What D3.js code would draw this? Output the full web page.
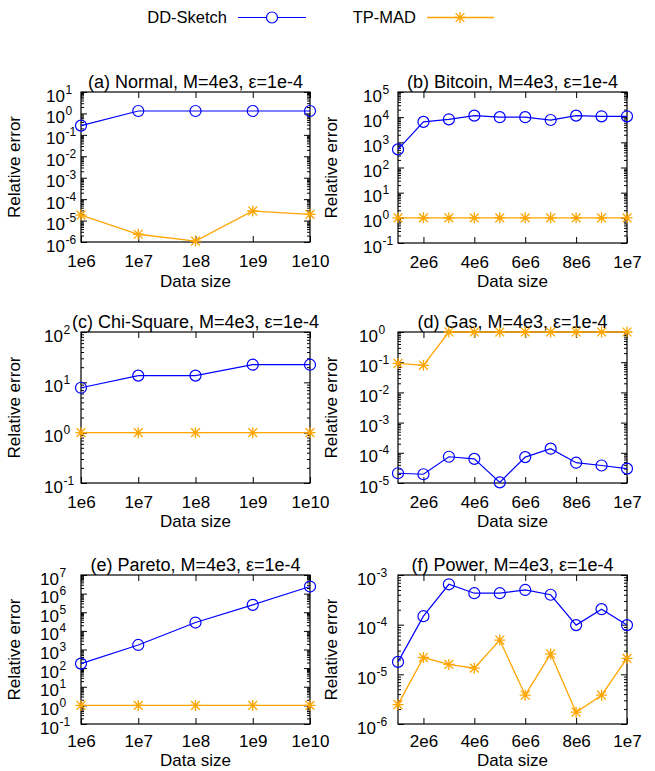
<!DOCTYPE html>
<html>
<head>
<meta charset="utf-8">
<script src="https://cdn.jsdelivr.net/npm/d3@7"></script>
<style>
  body { margin: 0; background: #fff; }
  text { font-family: "Liberation Sans", Arial, Helvetica, sans-serif; fill: #000; }
</style>
</head>
<body>
<div id="chart"></div>
<script>
// data sizes on the x axis
const logSizes = [1e6, 1e7, 1e8, 1e9, 1e10];
const linSizes = [1e6, 2e6, 3e6, 4e6, 5e6, 6e6, 7e6, 8e6, 9e6, 1e7];
const linTicks = [2e6, 4e6, 6e6, 8e6, 1e7];

// relative error
const normalDD = [0.27, 1.3, 1.3, 1.3, 1.3];
const normalTP = [1.8e-5, 2.3e-6, 1.1e-6, 2.8e-5, 1.95e-5];
const bitcoinDD = [525, 6500, 8200, 11500, 10000, 10000, 7700, 11500, 10800, 10800];
const bitcoinTP = [1, 1, 1, 1, 1, 1, 1, 1, 1, 1];
const chiDD = [7.8, 13.6, 13.6, 22.4, 22.4];
const chiTP = [1, 1, 1, 1, 1];
const gasDD = [2.1e-5, 1.95e-5, 7.4e-5, 6.3e-5, 1.05e-5, 7.2e-5, 1.37e-4, 4.7e-5, 3.8e-5, 3.0e-5];
const gasTP = [0.091, 0.079, 1, 1, 1, 1, 1, 1, 1, 1];
const paretoDD = [175, 1750, 28000, 2.5e5, 2.4e6];
const paretoTP = [1, 1, 1, 1, 1];
const powerDD = [1.78e-5, 1.48e-4, 6.5e-4, 4.3e-4, 4.3e-4, 5.0e-4, 4.0e-4, 9.8e-5, 2.05e-4, 9.8e-5];
const powerTP = [2.45e-6, 2.18e-5, 1.58e-5, 1.33e-5, 4.9e-5, 3.8e-6, 2.57e-5, 1.73e-6, 3.8e-6, 2.09e-5];

const BLUE = '#0000ff';
const ORANGE = '#ffa500';
const FONT = 17;

const panels = [
    { title: '(a) Normal, M=4e3, ε=1e-4', log: true, xs: logSizes, yDomain: [1e-6, 1e1], dd: normalDD, tp: normalTP,
      box: { x0: 81, x1: 310, y0: 92, y1: 242 }, gap: 16, pad: 13, xlab: 45 },
    { title: '(b) Bitcoin, M=4e3, ε=1e-4', log: false, xs: linSizes, yDomain: [1e-1, 1e5], dd: bitcoinDD, tp: bitcoinTP,
      box: { x0: 398, x1: 627, y0: 92, y1: 243 }, gap: 16, pad: 13, xlab: 44 },
    { title: '(c) Chi-Square, M=4e3, ε=1e-4', log: true, xs: logSizes, yDomain: [1e-1, 1e2], dd: chiDD, tp: chiTP,
      box: { x0: 81, x1: 310, y0: 332, y1: 483 }, gap: 18, pad: 13, xlab: 44 },
    { title: '(d) Gas, M=4e3, ε=1e-4', log: false, xs: linSizes, yDomain: [1e-5, 1e0], dd: gasDD, tp: gasTP,
      box: { x0: 398, x1: 627, y0: 332, y1: 483 }, gap: 20, pad: 13, xlab: 44 },
    { title: '(e) Pareto, M=4e3, ε=1e-4', log: true, xs: logSizes, yDomain: [1e-1, 1e7], dd: paretoDD, tp: paretoTP,
      box: { x0: 81, x1: 310, y0: 575, y1: 724 }, gap: 22, pad: 11, xlab: 42 },
    { title: '(f) Power, M=4e3, ε=1e-4', log: false, xs: linSizes, yDomain: [1e-6, 1e-3], dd: powerDD, tp: powerTP,
      box: { x0: 398, x1: 627, y0: 575, y1: 724 }, gap: 22, pad: 11, xlab: 42 }
];

const svg = d3.select('#chart')
    .append('svg')
    .attr('width', 655)
    .attr('height', 771);

svg.append('rect').attr('width', 655).attr('height', 771).attr('fill', '#fff');

// gnuplot style asterisk (+ and x)
function starPath(s) {
    const a = s * 0.8;
    return `M${-s},0L${s},0M0,${-s}L0,${s}M${-a},${-a}L${a},${a}M${-a},${a}L${a},${-a}`;
}

function styleAxis(sel) {
    sel.select('.domain').remove();
    sel.selectAll('.tick line').attr('stroke', '#000').attr('stroke-width', 1);
    sel.attr('font-family', null).attr('font-size', null);
}

function drawPanel(p) {
    const b = p.box;
    const g = svg.append('g');

    const x = p.log
        ? d3.scaleLog().domain([1e6, 1e10]).range([b.x0, b.x1])
        : d3.scaleLinear().domain([1e6, 1e7]).range([b.x0, b.x1]);
    const y = d3.scaleLog().domain(p.yDomain).range([b.y1, b.y0]);

    const lo = Math.round(Math.log10(p.yDomain[0]));
    const hi = Math.round(Math.log10(p.yDomain[1]));
    const majors = d3.range(lo, hi + 1).map(k => Math.pow(10, k));
    const minors = [];
    d3.range(lo, hi).forEach(k => {
        for (let m = 2; m <= 9; m++) minors.push(m * Math.pow(10, k));
    });

    // y axes, both sides, ticks pointing in
    const left = g.append('g').attr('transform', `translate(${b.x0},0)`)
        .call(d3.axisLeft(y).tickValues(majors).tickSizeInner(-6).tickSizeOuter(0).tickFormat(''));
    styleAxis(left);
    styleAxis(g.append('g').attr('transform', `translate(${b.x0},0)`)
        .call(d3.axisLeft(y).tickValues(minors).tickSizeInner(-3).tickSizeOuter(0).tickFormat('')));
    styleAxis(g.append('g').attr('transform', `translate(${b.x1},0)`)
        .call(d3.axisRight(y).tickValues(majors).tickSizeInner(-6).tickSizeOuter(0).tickFormat('')));
    styleAxis(g.append('g').attr('transform', `translate(${b.x1},0)`)
        .call(d3.axisRight(y).tickValues(minors).tickSizeInner(-3).tickSizeOuter(0).tickFormat('')));

    // 10^k labels
    left.selectAll('.tick').each(function (d) {
        const t = d3.select(this);
        t.select('text').remove();
        const k = Math.round(Math.log10(d));
        t.append('text')
            .attr('x', -p.gap).attr('y', 9)
            .attr('text-anchor', 'end')
            .attr('font-size', FONT)
            .text('10');
        t.append('text')
            .attr('x', -p.gap + 0.5).attr('y', 1)
            .attr('text-anchor', 'start')
            .attr('font-size', 12)
            .text(k);
    });

    // x axes
    const xTicks = p.log ? logSizes : linTicks;
    const fmt = p.log
        ? d => '1e' + Math.round(Math.log10(d))
        : d => (d >= 1e7 ? '1e7' : (d / 1e6) + 'e6');
    const bottom = g.append('g').attr('transform', `translate(0,${b.y1})`)
        .call(d3.axisBottom(x).tickValues(xTicks).tickSizeInner(-6).tickSizeOuter(0).tickPadding(p.pad).tickFormat(fmt));
    styleAxis(bottom);
    bottom.selectAll('.tick text').attr('font-size', FONT).attr('fill', '#000');
    styleAxis(g.append('g').attr('transform', `translate(0,${b.y0})`)
        .call(d3.axisTop(x).tickValues(xTicks).tickSizeInner(-6).tickSizeOuter(0).tickFormat('')));

    g.append('rect')
        .attr('x', b.x0).attr('y', b.y0)
        .attr('width', b.x1 - b.x0).attr('height', b.y1 - b.y0)
        .attr('fill', 'none').attr('stroke', '#000').attr('stroke-width', 1.2);

    // labels
    g.append('text')
        .attr('x', (b.x0 + b.x1) / 2).attr('y', b.y0 - 4)
        .attr('text-anchor', 'middle').attr('font-size', 18)
        .text(p.title);
    g.append('text')
        .attr('x', (b.x0 + b.x1) / 2).attr('y', b.y1 + p.xlab)
        .attr('text-anchor', 'middle').attr('font-size', FONT)
        .text('Data size');
    g.append('text')
        .attr('transform', `translate(${b.x0 - 61},${(b.y0 + b.y1) / 2}) rotate(-90)`)
        .attr('text-anchor', 'middle').attr('font-size', FONT)
        .text('Relative error');

    // series
    const line = d3.line()
        .x((d, i) => x(p.xs[i]))
        .y(d => y(d));

    g.append('path').datum(p.tp)
        .attr('d', line).attr('fill', 'none')
        .attr('stroke', ORANGE).attr('stroke-width', 1.3);
    g.selectAll('path.star').data(p.tp).enter().append('path')
        .attr('class', 'star')
        .attr('transform', (d, i) => `translate(${x(p.xs[i])},${y(d)})`)
        .attr('d', starPath(5.5))
        .attr('fill', 'none').attr('stroke', ORANGE).attr('stroke-width', 1.3);

    g.append('path').datum(p.dd)
        .attr('d', line).attr('fill', 'none')
        .attr('stroke', BLUE).attr('stroke-width', 1.2);
    g.selectAll('circle.dd').data(p.dd).enter().append('circle')
        .attr('class', 'dd')
        .attr('cx', (d, i) => x(p.xs[i]))
        .attr('cy', d => y(d))
        .attr('r', 5.5)
        .attr('fill', 'none').attr('stroke', BLUE).attr('stroke-width', 1.2);
}

panels.forEach(drawPanel);

// legend
const legend = svg.append('g');
legend.append('text').attr('x', 227).attr('y', 23).attr('text-anchor', 'end').attr('font-size', 16.5).text('DD-Sketch');
legend.append('line').attr('x1', 238).attr('x2', 306).attr('y1', 17.5).attr('y2', 17.5)
    .attr('stroke', BLUE).attr('stroke-width', 1.2);
legend.append('circle').attr('cx', 272).attr('cy', 17.5).attr('r', 5.5)
    .attr('fill', '#fff').attr('stroke', BLUE).attr('stroke-width', 1.2);
legend.append('text').attr('x', 416).attr('y', 23).attr('text-anchor', 'end').attr('font-size', 16.5).text('TP-MAD');
legend.append('line').attr('x1', 427).attr('x2', 494).attr('y1', 17.5).attr('y2', 17.5)
    .attr('stroke', ORANGE).attr('stroke-width', 1.3);
legend.append('path').attr('transform', 'translate(460,17.5)').attr('d', starPath(5.5))
    .attr('fill', 'none').attr('stroke', ORANGE).attr('stroke-width', 1.3);
</script>
</body>
</html>
